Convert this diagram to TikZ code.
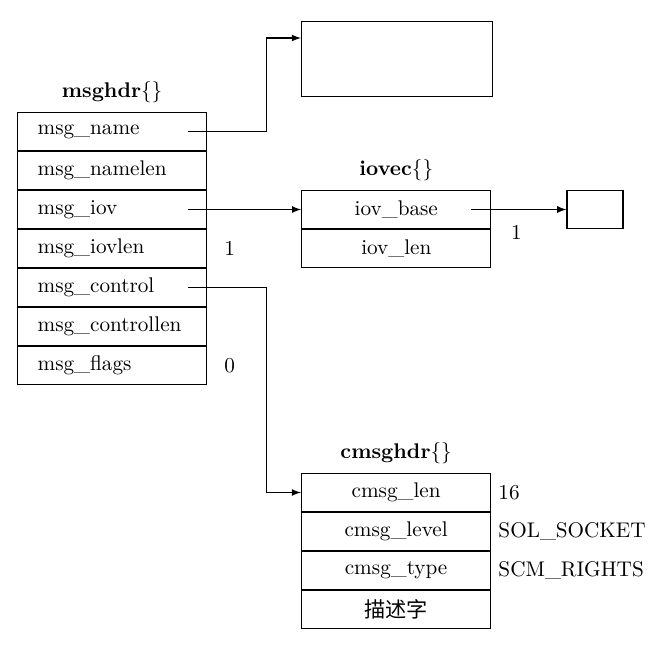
\documentclass[tikz,border=0pt]{standalone}
\usepackage{fontspec}
\newfontfamily\cjk{Noto Sans CJK SC}
\usetikzlibrary{positioning}
\begin{document}
\begin{tikzpicture}[x=0.5pt,y=-0.5pt,>=latex,semithick,
  font=\fontsize{10.6pt}{12pt}\selectfont,
  fld/.style={draw,minimum width=94.5pt,minimum height=18.9pt,inner sep=0pt},
  lfld/.style={fld,text width=74.5pt,align=left,inner xsep=10pt}]
\useasboundingbox (0,0) rectangle (662,655);
\node[lfld,anchor=north west] (name) at (17,112) {msg\_name};
\node[lfld,below=0pt of name] (namelen) {msg\_namelen};
\node[lfld,below=0pt of namelen] (iov) {msg\_iov};
\node[lfld,below=0pt of iov] (iovlen) {msg\_iovlen};
\node[lfld,below=0pt of iovlen] (ctl) {msg\_control};
\node[lfld,below=0pt of ctl] (ctllen) {msg\_controllen};
\node[lfld,below=0pt of ctllen] (flags) {msg\_flags};
\node[above=1pt of name] (tmsg) {\textbf{msghdr}\{\}};
\node[right=5pt of iovlen] (liovlen) {1};
\node[right=5pt of flags] (lflags) {0};
\node[draw,minimum width=95.5pt,minimum height=37.5pt,anchor=north west] (blk) at (301,21) {};
\node[fld,right=47pt of iov] (base) {iov\_base};
\node[fld,below=0pt of base] (len) {iov\_len};
\node[above=1pt of base] (tiov) {\textbf{iovec}\{\}};
\node[draw,minimum width=28pt,minimum height=19pt,right=37.5pt of base] (buf) {};
\node (lbase) at ([xshift=12.5pt,yshift=-1.5pt]base.south east) {1};
\node[fld,anchor=north west] (clen) at (301,473) {cmsg\_len};
\node[fld,below=0pt of clen] (clevel) {cmsg\_level};
\node[fld,below=0pt of clevel] (ctype) {cmsg\_type};
\node[fld,below=0pt of ctype] (cdata) {\cjk 描述字};
\node[above=1pt of clen] (tcmsg) {\textbf{cmsghdr}\{\}};
\node[right=0pt of clen] (lclen) {16};
\node[right=0pt of clevel] (lclevel) {SOL\_SOCKET};
\node[right=0pt of ctype] (lctype) {SCM\_RIGHTS};
\draw[->] ([xshift=-9.5pt]name.east) -- ++(78,0) |- ([yshift=-8.5pt]blk.north west);
\draw[->] ([xshift=-9.5pt]iov.east) -- (base.west);
\draw[->] ([xshift=-10pt]base.east) -- (buf.west);
\draw[->] ([xshift=-9.5pt]ctl.east) -- ++(78,0) |- (clen.west);
\end{tikzpicture}
\end{document}
